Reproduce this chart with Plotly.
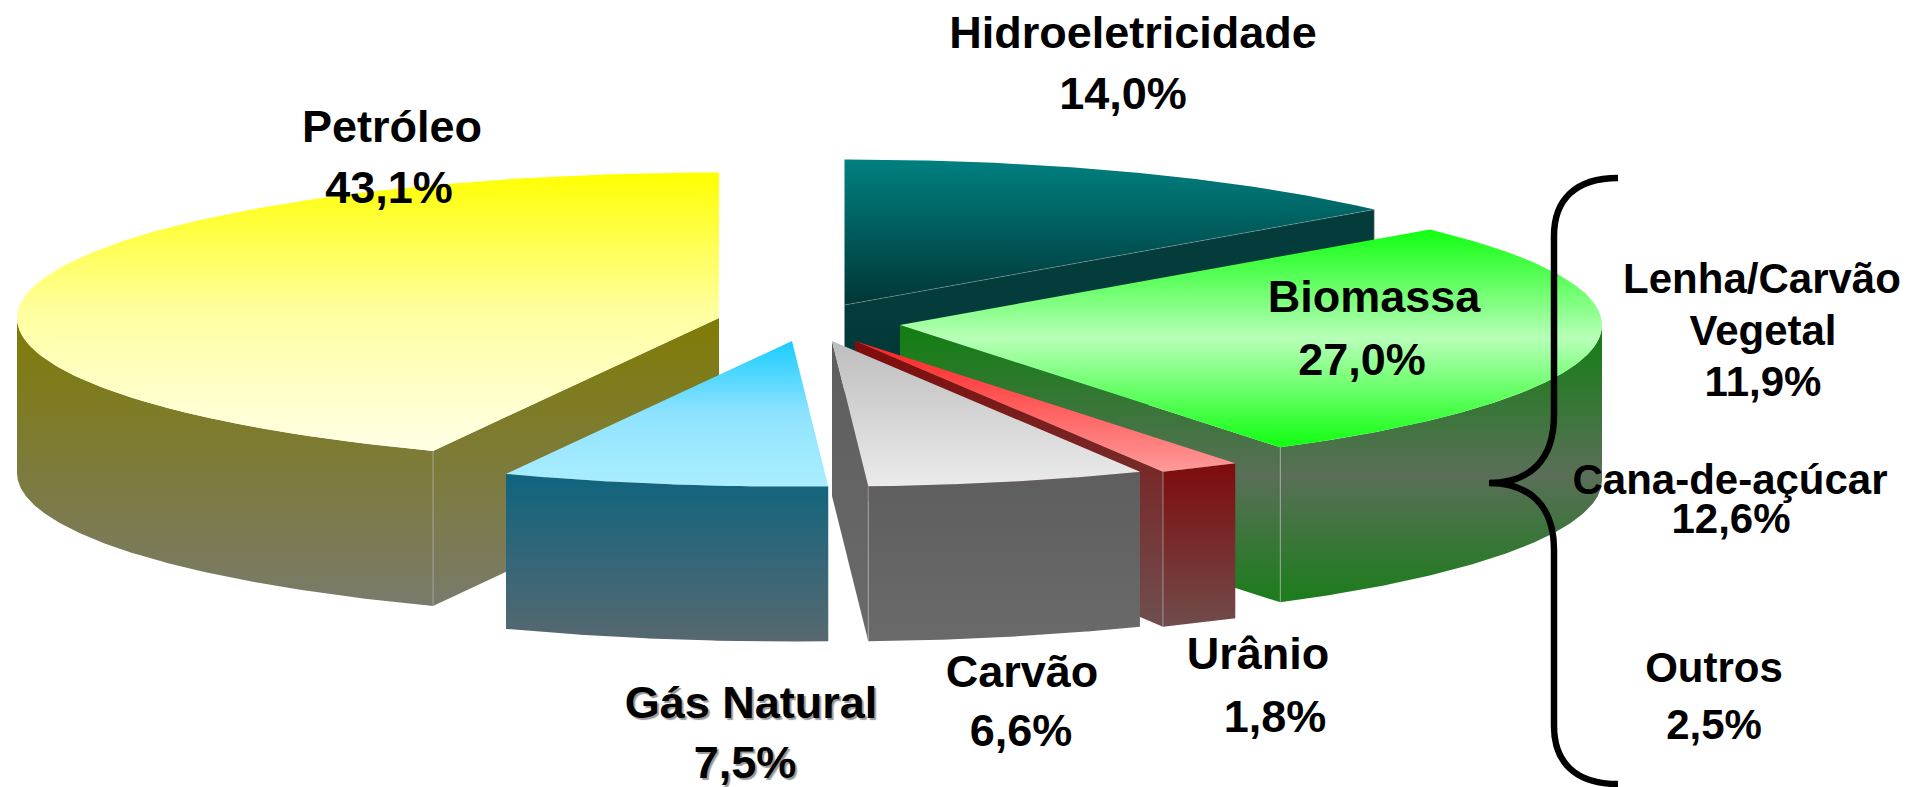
import numpy as np
import plotly.graph_objects as go

# ---- data ----
categories = ["Hidroeletricidade", "Biomassa", "Urânio", "Carvão", "Gás Natural", "Petróleo"]
shares = [14.0, 27.0, 1.8, 6.6, 7.5, 43.1]
biomass_parts = ["Lenha/Carvão", "Vegetal", "Cana-de-açúcar", "Outros"]
biomass_values = [11.9, 12.6, 2.5]

# ---- projection / style ----
RX, RY, DEPTH = 702, 145.5, 155
# apparent shift (degrees) of each slice boundary caused by the 3-D view
SKEW = [0, -1.4, -0.4, -0.1, -0.8, -0.8, 0]
centers = {
    "Hidroeletricidade": (844.5, 305), "Biomassa": (900, 325), "Urânio": (855, 341),
    "Carvão": (832, 341), "Gás Natural": (792, 341), "Petróleo": (719, 318),
}
top_grad = {
    "Hidroeletricidade": ["#008080", "#013636"],
    "Biomassa": ["#10ff10", "#b8ffb8", "#10ff10"],
    "Urânio": ["#ff2020", "#ff9a9a"],
    "Carvão": ["#bdbdbd", "#ebebeb"],
    "Gás Natural": ["#1accff", "#8fe3ff", "#aaeeff"],
    "Petróleo": ["#ffff00", "#ffffa0", "#ffffe6"],
}
wall_grad = {
    "Hidroeletricidade": ["#043c3c", "#002020"],
    "Biomassa": ["#107f10", "#5a6f58", "#107f10"],
    "Urânio": ["#7f0b0b", "#6f5252"],
    "Carvão": ["#5e5e5e", "#6a6a6a"],
    "Gás Natural": ["#0f647f", "#576870"],
    "Petróleo": ["#807c06", "#7a7a70"],
}
draw_order = ["Hidroeletricidade", "Petróleo", "Biomassa", "Urânio", "Carvão", "Gás Natural"]

FONT = "Liberation Sans, Arial, sans-serif"
pct = lambda v: f"{v:.1f}%".replace(".", ",")

# slice boundaries in degrees clockwise from the top
edges = np.concatenate([[0], np.cumsum(shares)]) * 3.6 + np.array(SKEW)
spans = {c: (edges[i], edges[i + 1]) for i, c in enumerate(categories)}


def rim(name, t):
    cx, cy = centers[name]
    t = np.radians(t)
    return cx + RX * np.sin(t), cy - RY * np.cos(t)


def scale(colors):
    return [[i / (len(colors) - 1), c] for i, c in enumerate(colors)]


def poly(x, y, colors, y0=None, y1=None):
    x, y = np.asarray(x, float), np.asarray(y, float)
    y0 = y.min() if y0 is None else y0
    y1 = y.max() if y1 is None else y1
    return go.Scatter(
        x=np.append(x, x[0]), y=np.append(y, y[0]), mode="lines", fill="toself",
        line=dict(width=0), hoverinfo="skip", showlegend=False,
        fillgradient=dict(type="vertical", colorscale=scale(colors), start=y0, stop=y1),
    )


def seam(x, y, color="rgba(190,190,190,0.6)"):
    fig.add_trace(go.Scatter(x=x, y=y, mode="lines", showlegend=False, hoverinfo="skip",
                             line=dict(color=color, width=1)))


fig = go.Figure()
for name in draw_order:
    a, b = spans[name]
    cx, cy = centers[name]
    colors = wall_grad[name]
    ts = np.linspace(a, b, 160)
    rx, ry = rim(name, ts)
    wall_bottom = cy + RY + DEPTH

    # flat cut faces
    faces = []
    if b < 180:
        faces.append(b)
    if 180 < a < 360:
        faces.append(a)
    for f in faces:
        fx, fy = rim(name, f)
        fig.add_trace(poly([cx, fx, fx, cx], [cy, fy, fy + DEPTH, cy + DEPTH], colors, cy, wall_bottom))

    # curved outer wall (only the part facing the viewer)
    lo, hi = max(a, 90), min(b, 270)
    if lo < hi:
        tw = np.linspace(lo, hi, 160)
        wx, wy = rim(name, tw)
        fig.add_trace(poly(np.r_[wx, wx[::-1]], np.r_[wy, wy[::-1] + DEPTH], colors, wy.min(), wall_bottom))

    # top face
    fig.add_trace(poly(np.r_[cx, rx], np.r_[cy, ry], top_grad[name]))

    # faint seams between faces
    for f in faces:
        fx, fy = rim(name, f)
        seam([fx, fx], [fy, fy + DEPTH])
    if name == "Hidroeletricidade":
        fx, fy = rim(name, b)
        seam([cx, fx], [cy, fy], "rgba(190,190,190,0.35)")

# ---- labels ----
value_of = dict(zip(categories, shares))
main_labels = {
    "Hidroeletricidade": ((1133, 37), (1123, 98), False),
    "Petróleo": ((392, 131), (389, 192), False),
    "Biomassa": ((1374, 301), (1362, 364), False),
    "Urânio": ((1258, 658), (1275, 721), False),
    "Carvão": ((1022, 676), (1021, 735), False),
    "Gás Natural": ((751, 707), (745, 767), True),
}


def text(x, y, s, size, shadow=False):
    fnt = dict(family=FONT, size=size, color="black", weight="bold")
    if shadow:
        fnt["shadow"] = "2px 2px 1px #9a9a9a"
    fig.add_trace(go.Scatter(x=[x], y=[y], mode="text", text=[s], textposition="middle center",
                             textfont=fnt, hoverinfo="skip", showlegend=False))


for name, (p1, p2, sh) in main_labels.items():
    text(*p1, name, 45, sh)
    text(*p2, pct(value_of[name]), 45, sh)

text(1762, 282, biomass_parts[0], 42)
text(1763, 334, biomass_parts[1], 42)
text(1763, 385, pct(biomass_values[0]), 42)
text(1730, 483, biomass_parts[2], 42)
text(1731, 522, pct(biomass_values[1]), 42)
text(1714, 671, biomass_parts[3], 42)
text(1714, 728, pct(biomass_values[2]), 42)

# ---- curly brace ----
brace = ("M 1618 178 C 1575 178 1554 200 1554 236 L 1554 415 "
         "C 1554 460 1530 483 1489 483 C 1530 483 1554 506 1554 550 L 1554 726 "
         "C 1554 762 1575 784 1618 784")
fig.add_shape(type="path", path=brace, xref="x", yref="y", layer="above",
              line=dict(color="black", width=6.5))

fig.update_xaxes(visible=False, range=[0, 1908], fixedrange=True)
fig.update_yaxes(visible=False, range=[787, 0], fixedrange=True)
fig.update_layout(width=1908, height=787, margin=dict(l=0, r=0, t=0, b=0),
                  paper_bgcolor="white", plot_bgcolor="white", showlegend=False)
fig.write_html("out.html", config={"displayModeBar": False},
               post_script="document.body.style.margin='0';document.body.style.overflow='hidden';")
